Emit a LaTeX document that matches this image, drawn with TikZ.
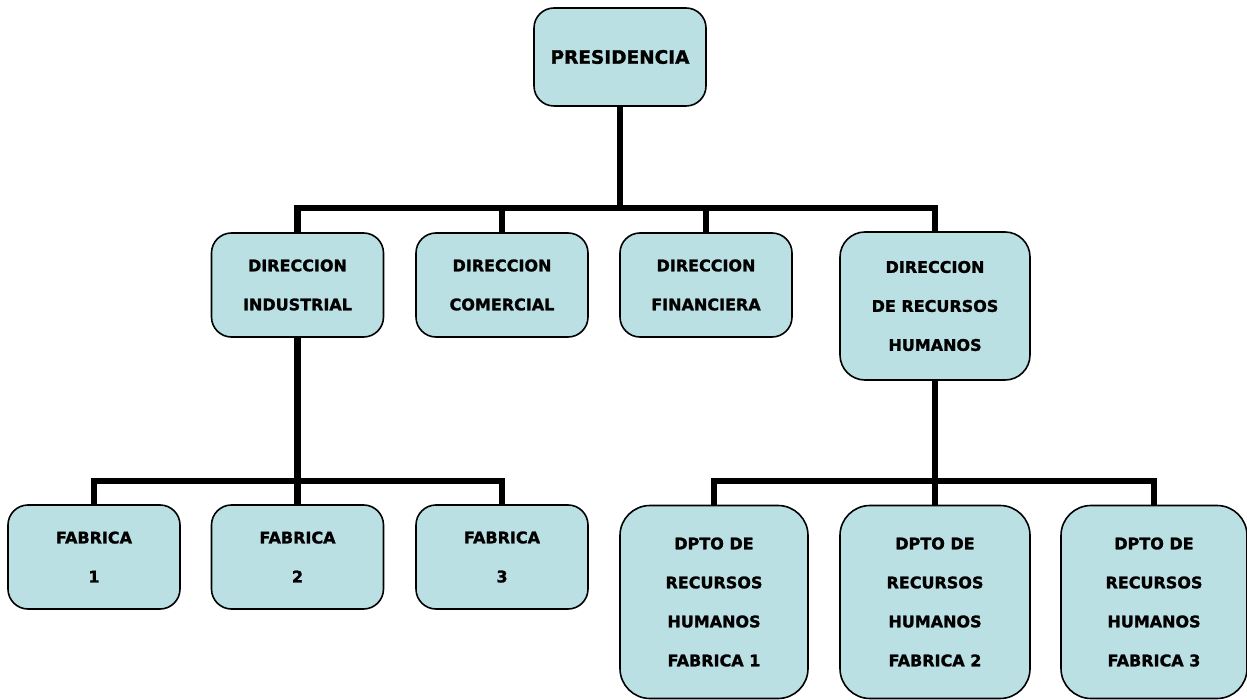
\documentclass[tikz,border=0pt]{standalone}
\usepackage{fontspec}
\setmainfont{DejaVu Sans}[BoldFeatures={FakeBold=1.4}]
\usepackage{tikz}
\usetikzlibrary{positioning}
\definecolor{boxfill}{RGB}{186,224,228}

\begin{document}
\begin{tikzpicture}[x=1pt,y=-1pt,every node/.style={font=\bfseries\fontsize{16}{39}\selectfont,align=center},unitbox/.style={draw,line width=1.6pt,fill=boxfill,rounded corners=20pt,inner sep=0pt,minimum width=172pt,minimum height=104pt},tallbox/.style={unitbox,rounded corners=30pt,minimum width=188pt,minimum height=193pt},link/.style={line width=6.5pt}]
\useasboundingbox (0,0) rectangle (1247,700);
% top level
\node[unitbox,minimum height=98pt,font=\bfseries\fontsize{18.5}{22}\selectfont] (pres) at (620,57) {PRESIDENCIA};
% directions
\node[unitbox] (dInd) at (297.5,285) {DIRECCION\\INDUSTRIAL}; \node[unitbox] (dCom) at (502,285) {DIRECCION\\COMERCIAL}; \node[unitbox] (dFin) at (706,285) {DIRECCION\\FINANCIERA}; \node[unitbox,minimum width=190pt,minimum height=148pt,rounded corners=25pt] (dRH) at (935,306) {DIRECCION\\DE RECURSOS\\HUMANOS};
% factories
\node[unitbox] (fab1) at (94,557) {FABRICA\\1}; \node[unitbox] (fab2) at (297.5,557) {FABRICA\\2}; \node[unitbox] (fab3) at (502,557) {FABRICA\\3};
% hr departments
\node[tallbox] (rh1) at (714,602) {DPTO DE\\RECURSOS\\HUMANOS\\FABRICA 1}; \node[tallbox,minimum width=190pt] (rh2) at (935,602) {DPTO DE\\RECURSOS\\HUMANOS\\FABRICA 2}; \node[tallbox,minimum width=186pt] (rh3) at (1154,602) {DPTO DE\\RECURSOS\\HUMANOS\\FABRICA 3};
% buses
\coordinate (bus1) at (620,208); \coordinate (bus2) at (297.5,481); \coordinate (bus3) at (935,481);
\draw[link] (pres) -- (bus1); \draw[link] (dInd.north) |- (bus1); \draw[link] (dCom.north) |- (bus1); \draw[link] (dFin.north) |- (bus1); \draw[link] (dRH.north) |- (bus1);
\draw[link] (dInd) -- (bus2); \draw[link] (fab1.north) |- (bus2); \draw[link] (fab2.north) |- (bus2); \draw[link] (fab3.north) |- (bus2);
\draw[link] (dRH) -- (bus3); \draw[link] (rh1.north) |- (bus3); \draw[link] (rh2.north) |- (bus3); \draw[link] (rh3.north) |- (bus3);
\end{tikzpicture}
\end{document}
